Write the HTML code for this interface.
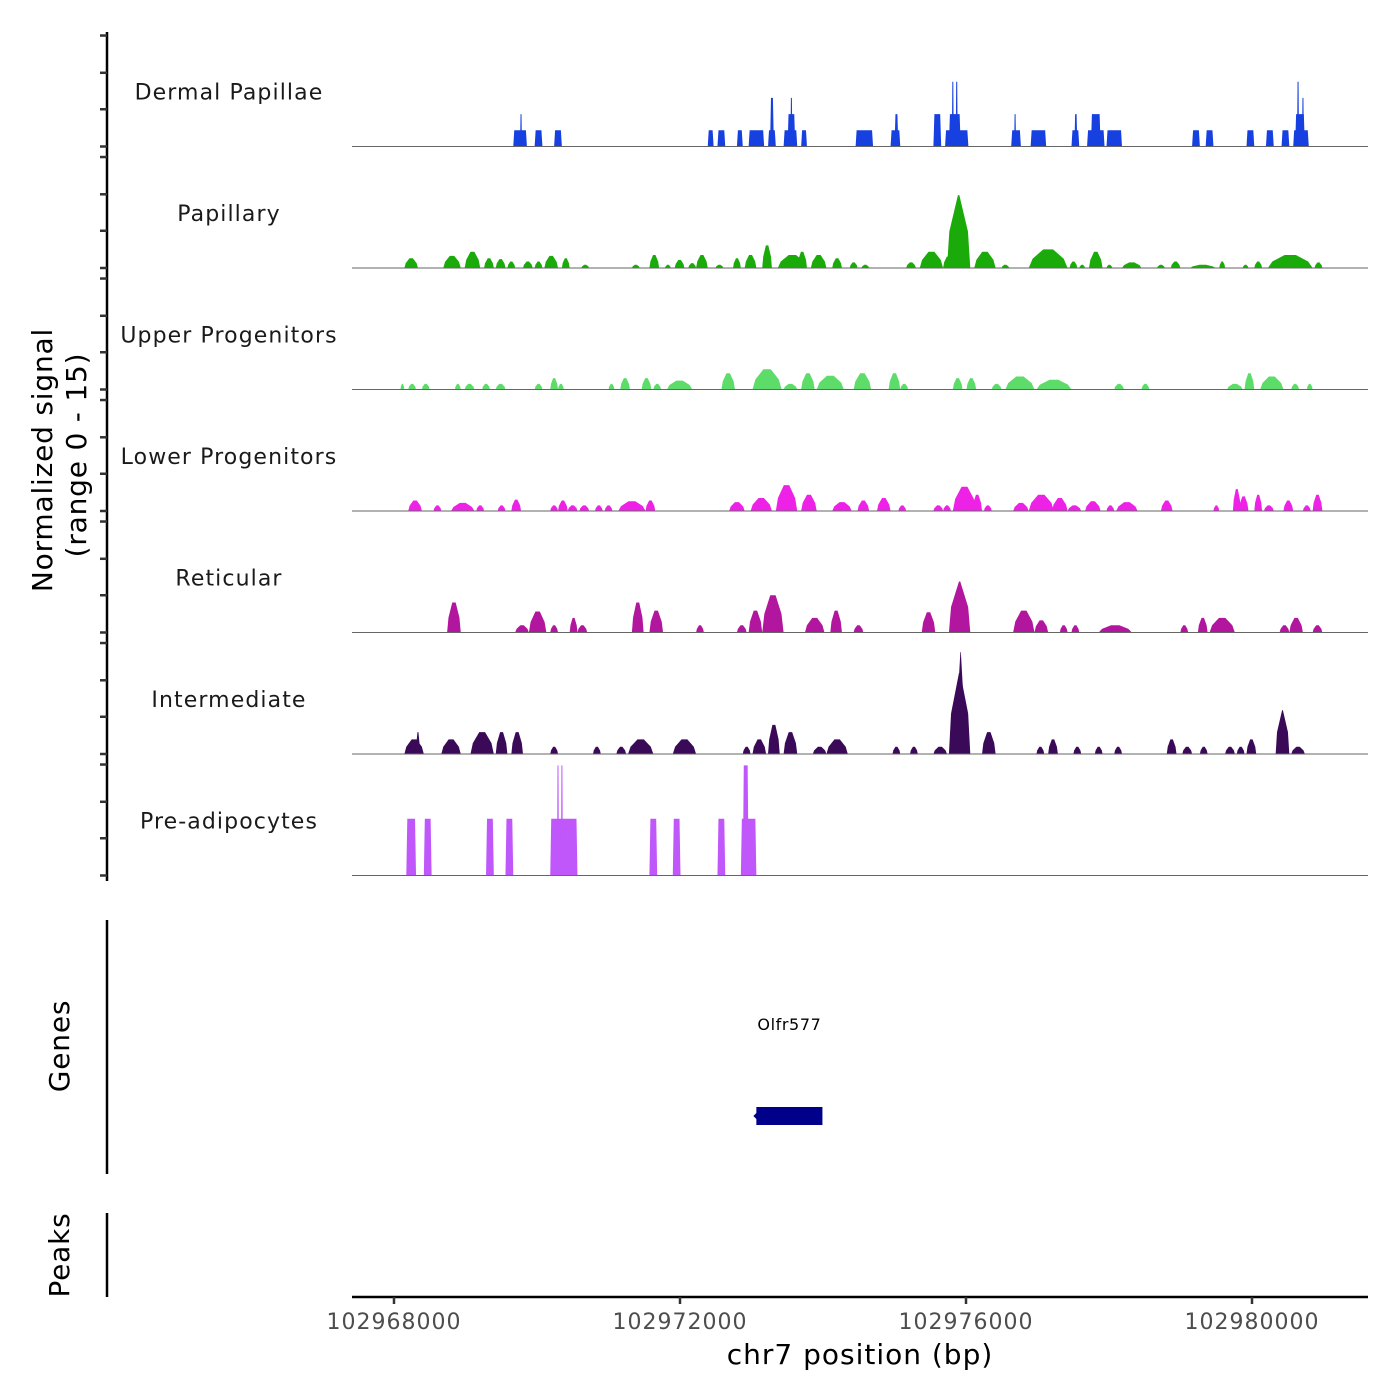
<!DOCTYPE html>
<html><head><meta charset="utf-8"><style>
html,body{margin:0;padding:0;background:#fff;}
svg{display:block;font-family:"DejaVu Sans","Liberation Sans",sans-serif;}
</style></head><body>
<svg id="chart" width="1400" height="1400" viewBox="0 0 1400 1400" xmlns="http://www.w3.org/2000/svg">
<g id="tracks"></g>
<g id="yaxis"></g>
<text transform="translate(52,460) rotate(-90)" text-anchor="middle" font-size="28" letter-spacing="0.8" fill="#000">Normalized signal</text>
<text transform="translate(86,455) rotate(-90)" text-anchor="middle" font-size="28" letter-spacing="0.8" fill="#000">(range 0 - 15)</text>
<line x1="107" y1="920" x2="107" y2="1174" stroke="#000" stroke-width="2.5"/>
<text transform="translate(69,1046) rotate(-90)" text-anchor="middle" font-size="28" letter-spacing="0.8" fill="#000">Genes</text>
<g id="genes"></g>
<line x1="107" y1="1213" x2="107" y2="1297" stroke="#000" stroke-width="2.5"/>
<text transform="translate(69,1255) rotate(-90)" text-anchor="middle" font-size="28" letter-spacing="0.8" fill="#000">Peaks</text>
<g id="xaxis"></g>
<text x="860" y="1364" text-anchor="middle" font-size="28" letter-spacing="1" fill="#000">chr7 position (bp)</text>
</svg>
<script>
// genomic positions stored as bp offsets relative to 102968000; heights in signal units
const trackNames = ["Dermal Papillae","Papillary","Upper Progenitors","Lower Progenitors","Reticular","Intermediate","Pre-adipocytes"];
const trackColors = ["#1740e0","#1aab0a","#5ddc6a","#ee22e6","#b2169e","#3a0a58","#c057fa"];
const trackStyles = ["block","hill","hill","hill","hill","hill","block"];
const xTicks = [102968000,102972000,102976000,102980000];
const xTickLabels = ["102968000","102972000","102976000","102980000"];
const yTickVals = [0,4.6,9.1,13.7];
const dermal = [[1668,1859,2],[1763,1790,4],[1967,2076,2],[2239,2348,2],[4388,4470,2],[4524,4633,2],[4796,4878,2],[4960,5177,2],[5231,5340,2],[5259,5313,6],[5449,5640,2],[5504,5612,4],[5544,5572,6],[5694,5776,2],[6456,6700,2],[6945,7081,2],[7000,7054,4],[7544,7653,4],[7707,8033,2],[7761,7925,4],[7802,7829,8],[7856,7884,8],[8632,8768,2],[8673,8700,4],[8904,9121,2],[9475,9584,2],[9516,9557,4],[9693,9938,2],[9747,9883,4],[9965,10182,2],[11162,11271,2],[11352,11461,2],[11923,12032,2],[12195,12304,2],[12413,12522,2],[12576,12794,2],[12603,12739,4],[12630,12658,8],[12699,12726,6]];
const papillary = [[145,335,1.2],[689,934,1.5],[988,1206,2],[1260,1396,1.2],[1423,1559,1.1],[1586,1695,0.8],[1804,1940,0.8],[1967,2076,0.8],[2103,2294,1.5],[2348,2457,1.2],[2620,2729,0.4],[3327,3436,0.4],[3572,3708,1.6],[3790,3871,0.4],[3926,4062,1],[4116,4225,0.6],[4225,4388,1.6],[4497,4606,0.4],[4742,4851,1.2],[4905,5068,1.6],[5150,5286,2.8],[5368,5776,1.6],[5640,5776,2],[5830,6048,1.6],[6129,6265,1.2],[6374,6483,0.7],[6537,6646,0.4],[7163,7299,0.7],[7353,7680,2],[7680,7816,1.4],[7734,8060,9],[8115,8414,2],[8496,8604,0.4],[8877,9421,2.3],[9448,9557,0.8],[9584,9665,0.4],[9720,9910,2],[9965,10046,0.4],[10182,10454,0.7],[10672,10781,0.4],[10863,10998,0.8],[11134,11488,0.4],[11542,11624,0.8],[11869,11950,0.4],[12032,12141,0.8],[12222,12848,1.6],[12875,12984,0.7]];
const upperProg = [[90,145,0.7],[199,308,0.7],[390,498,0.7],[852,934,0.7],[988,1124,0.7],[1233,1342,0.7],[1423,1559,0.7],[1967,2076,0.7],[2185,2294,1.4],[2294,2375,0.7],[3001,3083,0.7],[3164,3300,1.4],[3463,3599,1.4],[3627,3735,0.7],[3817,4171,1.1],[4579,4769,2],[5014,5422,2.5],[5449,5640,0.7],[5694,5884,2],[5912,6292,1.7],[6428,6673,2],[6918,7081,2],[7081,7190,0.7],[7816,7952,1.4],[8006,8142,1.4],[8360,8496,0.7],[8550,8958,1.6],[8985,9475,1.2],[10073,10209,0.7],[10454,10563,0.7],[11651,11869,0.7],[11896,12032,2],[12114,12440,1.6],[12549,12658,0.7],[12767,12848,0.7]];
const lowerProg = [[199,390,1.3],[553,662,0.7],[798,1124,1],[1151,1260,0.7],[1450,1559,0.7],[1641,1777,1.4],[2185,2294,0.7],[2294,2430,1.3],[2430,2566,0.7],[2593,2729,0.7],[2811,2919,0.7],[2947,3055,0.7],[3137,3518,1.2],[3518,3654,1.3],[4687,4905,1.1],[4987,5286,1.6],[5340,5640,3.2],[5694,5912,2],[6129,6401,1.1],[6483,6646,1.3],[6755,6945,1.6],[7054,7163,0.7],[7544,7680,0.7],[7680,7789,0.7],[7816,8142,3],[8088,8224,2],[8251,8360,0.7],[8659,8877,1],[8877,9230,2],[9203,9421,1.6],[9421,9611,0.7],[9665,9883,1.2],[9965,10073,0.7],[10101,10400,1.1],[10726,10889,1.3],[11461,11542,0.7],[11733,11842,2.7],[11815,11950,1.8],[12032,12141,2],[12168,12304,0.7],[12440,12576,1.3],[12712,12821,0.7],[12848,12984,2]];
const reticular = [[743,934,3.7],[1695,1886,0.9],[1886,2131,2.6],[2185,2294,0.9],[2457,2566,1.8],[2566,2702,0.9],[3327,3491,3.7],[3572,3763,2.7],[4225,4334,0.9],[4796,4932,0.9],[4960,5150,2.7],[5150,5449,4.6],[5748,6020,1.8],[6102,6265,2.7],[6428,6564,0.9],[7381,7571,2.5],[7761,8060,6.3],[8659,8958,2.7],[8958,9149,1.5],[9312,9421,0.9],[9475,9584,0.9],[9856,10318,0.9],[10998,11107,0.9],[11243,11379,1.8],[11406,11760,1.8],[12386,12522,0.9],[12522,12712,1.8],[12848,12984,0.9]];
const intermediate = [[145,417,1.8],[308,362,2.7],[662,934,1.8],[1070,1396,2.7],[1423,1586,2.7],[1641,1804,2.7],[2185,2294,0.9],[2783,2892,0.9],[3110,3246,0.9],[3273,3627,1.8],[3899,4225,1.8],[4878,4987,0.9],[5014,5204,1.8],[5231,5395,3.6],[5449,5640,2.7],[5857,6048,0.9],[6048,6347,1.8],[6972,7081,0.9],[7217,7326,0.9],[7544,7734,0.9],[7761,8060,10],[7870,7979,12.6],[8224,8414,2.7],[8985,9094,0.9],[9149,9285,1.8],[9502,9611,0.9],[9802,9910,0.9],[10073,10182,0.9],[10808,10944,1.8],[11025,11162,0.9],[11271,11379,0.9],[11624,11760,0.9],[11787,11896,0.9],[11923,12059,1.8],[12331,12522,5.4],[12549,12739,0.9]];
const preAdipo = [[172,308,7],[417,526,7],[1287,1396,7],[1559,1668,7],[2185,2566,7],[2280,2307,13.6],[2335,2362,13.6],[3572,3681,7],[3899,4007,7],[4524,4633,7],[4851,5068,7],[4878,4960,13.6]];
const trackData = [dermal,papillary,upperProg,lowerProg,reticular,intermediate,preAdipo];
const geneName = "Olfr577";
const geneStart = 5068, geneEnd = 5992; // offset from 102968000

const NS="http://www.w3.org/2000/svg";
const ORIGIN=102968000;
const X0=394, PX_PER_BP=286/4000;
function xs(off){return X0+off*PX_PER_BP;}
function xg(bp){return xs(bp-ORIGIN);}
const UNIT=8.1, BASE0=146.5, STEP=121.5;
function base(i){return BASE0+i*STEP;}
function ys(i,v){return base(i)-v*UNIT;}
function mk(tag,attrs,parent){const e=document.createElementNS(NS,tag);for(const k in attrs)e.setAttribute(k,attrs[k]);parent.appendChild(e);return e;}

const tracks=document.getElementById('tracks');
trackData.forEach((arr,i)=>{
  const g=mk('g',{},tracks);
  
  
  const lab=mk('text',{x:229,y:base(i)-47,'text-anchor':'middle','font-size':22,fill:'#1a1a1a','letter-spacing':'1.1'},g);
  lab.textContent=trackNames[i];
  
  
  arr.forEach(p=>{
    const x1=xs(p[0]), x2=xs(p[1]), yb=base(i), yt=ys(i,p[2]);
    const w=x2-x1;
    let pts;
    if(trackStyles[i]==='block'){
      const s=Math.min(1,w/4);
      pts=[[x1,yb],[x1+s,yt],[x2-s,yt],[x2,yb]];
    } else {
      const c=(x1+x2)/2, tw=w*(p[2]>5?0.06:0.25);
      pts=[[x1,yb],[x1+w*0.1,ys(i,p[2]*0.5)],[c-tw/2,yt],[c+tw/2,yt],[x2-w*0.1,ys(i,p[2]*0.5)],[x2,yb]];
    }
    const poly=mk('polygon',{points:pts.map(q=>q[0].toFixed(2)+','+q[1].toFixed(2)).join(' '),fill:trackColors[i]},g);
    
    
  });
  const bl=mk('line',{x1:352,x2:1368,y1:base(i),y2:base(i),stroke:'#666',"stroke-width":1},g);
  
  
});

const ya=document.getElementById('yaxis');
const yl=mk('line',{x1:107,x2:107,y1:32,y2:881,stroke:'#000','stroke-width':2.5},ya);


trackData.forEach((a,i)=>{
  yTickVals.forEach(v=>{
    const t=mk('line',{x1:100,x2:107,y1:ys(i,v),y2:ys(i,v),stroke:'#333','stroke-width':2.5},ya);
    
    
  });
});

const gg=document.getElementById('genes');
const gl=mk('text',{x:(xs(geneStart)+xs(geneEnd))/2,y:1030,'text-anchor':'middle','font-size':16,fill:'#000','letter-spacing':'0.6'},gg);
gl.textContent=geneName;


const gr=mk('rect',{x:xs(geneStart),y:1107,width:xs(geneEnd)-xs(geneStart),height:18,fill:'#00008b'},gg);


const ga=mk('polygon',{points:`${xs(geneStart)-3},1116 ${xs(geneStart)+2},1111 ${xs(geneStart)+2},1121`,fill:'#00008b'},gg);



const xa=document.getElementById('xaxis');
const xl=mk('line',{x1:352,x2:1368,y1:1297,y2:1297,stroke:'#000','stroke-width':2.5},xa);


xTicks.forEach((t,k)=>{
  const tk=mk('line',{x1:xg(t),x2:xg(t),y1:1297,y2:1304,stroke:'#333','stroke-width':2.5},xa);
  
  
  const tl=mk('text',{x:xg(t),y:1329,'text-anchor':'middle','font-size':22,fill:'#4d4d4d','letter-spacing':'1'},xa);
  tl.textContent=xTickLabels[k];
  
  
});
</script>
</body></html>
